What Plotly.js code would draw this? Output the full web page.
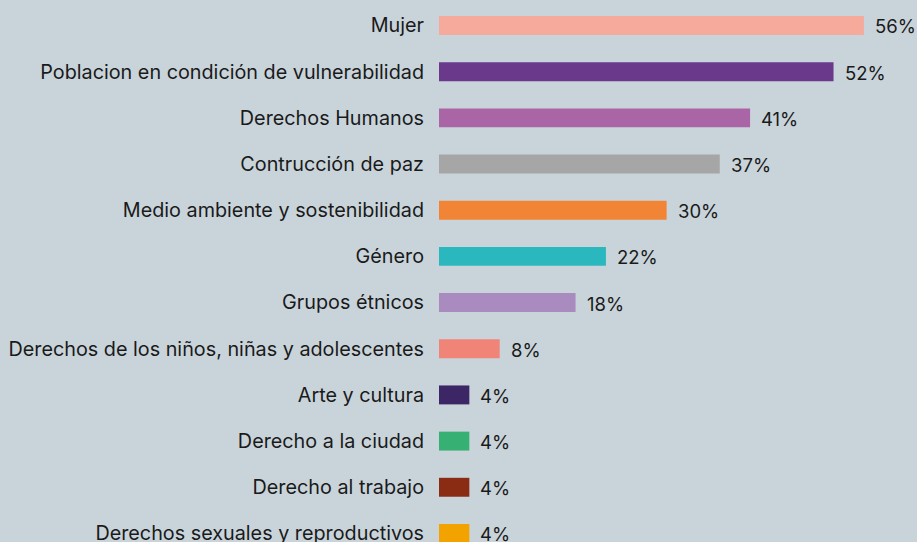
<!DOCTYPE html>
<html>
<head>
<meta charset="utf-8">
<script src="https://cdn.plot.ly/plotly-3.0.1.min.js"></script>
<style>html,body{margin:0;padding:0;background:#c9d4da;}#chart{width:917px;height:542px;}</style>
</head>
<body>
<div id="chart"></div>
<script>
const categories = [
  "Mujer",
  "Poblacion en condición de vulnerabilidad",
  "Derechos Humanos",
  "Contrucción de paz",
  "Medio ambiente y sostenibilidad",
  "Género",
  "Grupos étnicos",
  "Derechos de los niños, niñas y adolescentes",
  "Arte y cultura",
  "Derecho a la ciudad",
  "Derecho al trabajo",
  "Derechos sexuales y reproductivos"
];
const values = [56, 52, 41, 37, 30, 22, 18, 8, 4, 4, 4, 4];
const colors = ["#f5aa9c", "#6a398c", "#a965a5", "#a6a6a6", "#f28435", "#2bb7be", "#aa8bc0", "#f08477", "#3d2666", "#37b173", "#8a2c14", "#f3a300"];

const FONT = "Inter, 'Noto Sans', sans-serif";
const data = [{
  type: "bar",
  orientation: "h",
  y: categories,
  x: values,
  marker: {color: colors},
  width: 0.41,
  hoverinfo: "none"
}];

const annotations = categories.map((c, i) => ({
  x: values[i], y: c, xref: "x", yref: "y",
  text: values[i] + "%",
  showarrow: false, xanchor: "left", yanchor: "middle",
  xshift: 9, yshift: -1,
  font: {family: FONT, size: 18.5, color: "#1a1a1a"}
}));

const layout = {
  width: 917, height: 542,
  margin: {l: 439, r: 0, t: 0, b: 0},
  paper_bgcolor: "#c9d4da",
  plot_bgcolor: "#c9d4da",
  showlegend: false,
  xaxis: {range: [0, 63.0], visible: false, fixedrange: true},
  yaxis: {
    type: "category",
    categoryorder: "array",
    categoryarray: categories,
    range: [11.185, -0.552],
    showgrid: false, zeroline: false, showline: false,
    ticks: "", ticklabelstandoff: 14,
    tickfont: {family: FONT, size: 19.8, color: "#1a1a1a"},
    automargin: false
  },
  annotations: annotations
};

Plotly.newPlot("chart", data, layout, {staticPlot: true, displayModeBar: false});
</script>
</body>
</html>
